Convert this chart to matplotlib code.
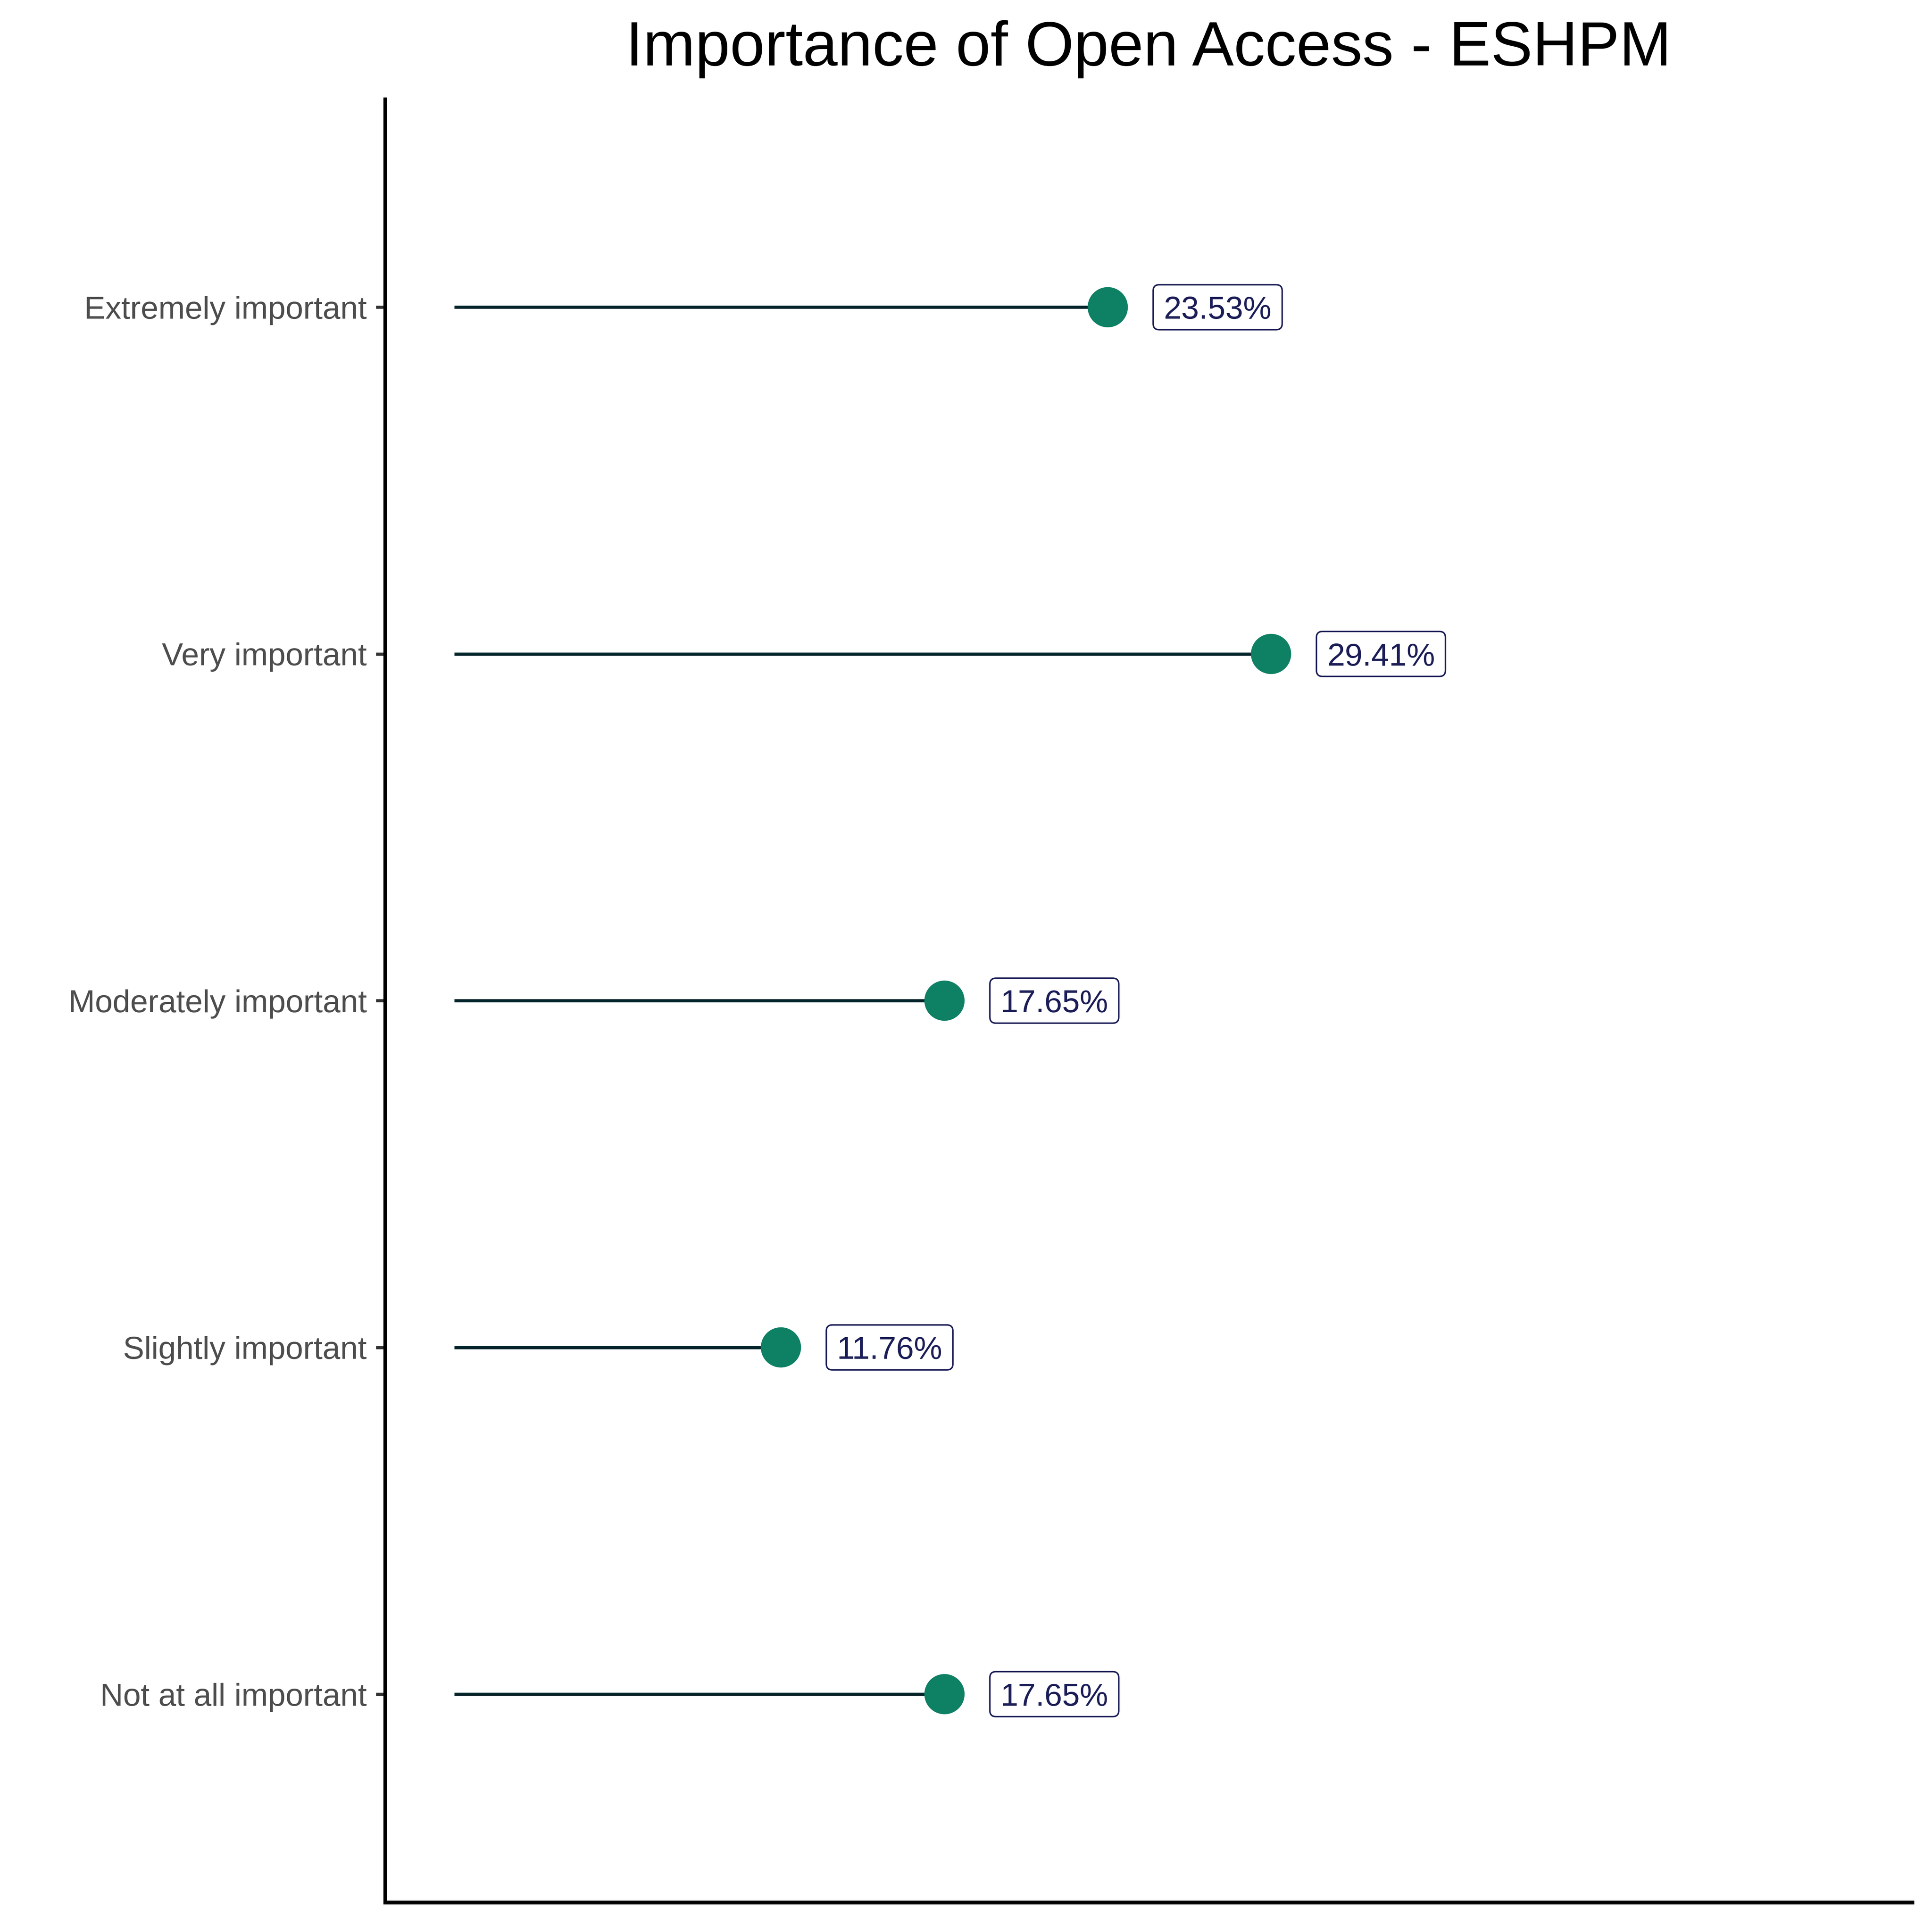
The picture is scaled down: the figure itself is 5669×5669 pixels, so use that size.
import matplotlib
matplotlib.use("Agg")
import matplotlib.pyplot as plt
from matplotlib.patches import FancyBboxPatch
from matplotlib.transforms import IdentityTransform

categories = ["Not at all important", "Slightly important", "Moderately important",
              "Very important", "Extremely important"]
values = [17.65, 11.76, 17.65, 29.41, 23.53]
labels = ["17.65%", "11.76%", "17.65%", "29.41%", "23.53%"]
title = "Importance of Open Access - ESHPM"

plt.rcParams['font.family'] = ['Liberation Sans', 'DejaVu Sans']

DPI = 300
W = 5669
fig = plt.figure(figsize=(W / DPI, W / DPI), dpi=DPI)
left, right, top, bottom = 1129.5 / W, 5611 / W, 291 / W, 5581.5 / W
ax = fig.add_axes([left, 1 - bottom, right - left, bottom - top])

ypos = list(range(1, len(categories) + 1))
line_col = '#03242b'
pt_col = '#0e8064'
lab_col = '#1b1d57'

for y, v in zip(ypos, values):
    ax.plot([0, v], [y, y], color=line_col, lw=2.24, solid_capstyle='butt', zorder=2)
ax.scatter(values, ypos, s=802, color=pt_col, edgecolors='none', zorder=3)

ax.set_xlim(-2.5, 52.5)
ax.set_ylim(0.4, 5.6)
ax.set_yticks(ypos)
ax.set_yticklabels(categories, fontsize=22.4, color='#4d4d4d')
ax.set_xticks([])
for s in ['top', 'right']:
    ax.spines[s].set_visible(False)
for s in ['left', 'bottom']:
    ax.spines[s].set_linewidth(2.64)
    ax.spines[s].set_color('black')
ax.tick_params(axis='y', length=6.5, width=2.2, color='#333333', pad=6.3)

texts = []
for y, v, lab in zip(ypos, values, labels):
    t = ax.annotate(lab, xy=(v, y), xytext=(39.4, -8.1), textcoords='offset points',
                    ha='left', va='baseline', fontsize=22.4, color=lab_col, zorder=6)
    texts.append((t, v, y))

fig.text((left + right) / 2, 1 - 192 / W, title, ha='center', va='baseline',
         fontsize=44, color='black')

fig.canvas.draw()
renderer = fig.canvas.get_renderer()
for t, v, y in texts:
    ext = t.get_window_extent(renderer)
    px, py = ax.transData.transform((v, y))
    x0 = ext.x0 - 31
    x1 = ext.x1 + 31
    y0 = py - 66
    y1 = py + 66
    box = FancyBboxPatch((x0, y0), x1 - x0, y1 - y0,
                         boxstyle="round,pad=0,rounding_size=18",
                         transform=IdentityTransform(), facecolor='white',
                         edgecolor=lab_col, linewidth=1.05, zorder=4, clip_on=False)
    ax.add_artist(box)

fig.savefig("out.png", dpi=DPI, facecolor='white')
